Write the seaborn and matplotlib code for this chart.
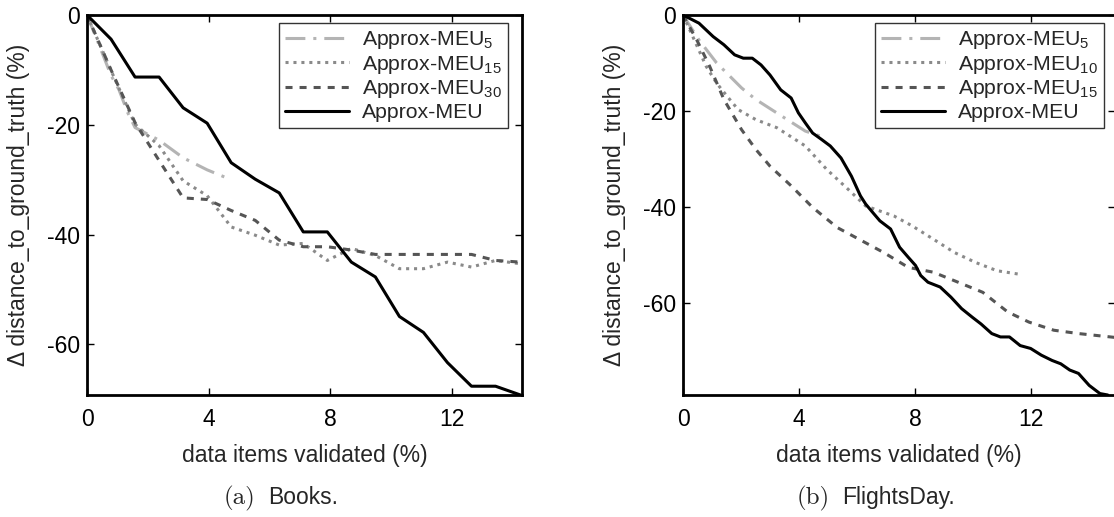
import matplotlib
matplotlib.use("Agg")
import matplotlib.pyplot as plt
import seaborn as sns
from matplotlib.offsetbox import TextArea, HPacker, AnnotationBbox

# ---- Books (a) ----
books_x = [0, 0.79, 1.58, 2.37, 3.16, 3.95, 4.74, 5.53, 6.32, 7.11, 7.9,
           8.69, 9.48, 10.27, 11.06, 11.85, 12.64, 13.43, 14.25]
books_meu = [0, -4.4, -11.3, -11.3, -16.9, -19.7, -26.9, -29.9, -32.4, -39.5, -39.5,
             -45.0, -47.7, -54.9, -57.8, -63.3, -67.6, -67.6, -69.2]
books_meu15 = [0, -10.1, -19.9, -23.8, -30.2, -32.9, -38.6, -40.1, -41.9, -41.6, -44.7,
               -42.5, -43.8, -46.2, -46.2, -45.0, -45.9, -44.7, -45.3]
books_meu30 = [0, -10.0, -19.6, -26.5, -33.3, -33.6, -35.6, -37.4, -41.0, -42.2, -42.2,
               -42.8, -43.6, -43.6, -43.6, -43.6, -43.6, -44.7, -45.0]
books_meu5_x = [0, 0.4, 0.79, 1.05, 1.34, 1.58, 2.37, 3.16, 3.95, 4.74]
books_meu5 = [0, -5.5, -11.0, -13.6, -17.8, -20.5, -22.8, -26.0, -28.2, -30.0]

# ---- FlightsDay (b) ----
fd_meu_x = [0, 0.55, 1.04, 1.41, 1.78, 2.08, 2.39, 2.69, 3.0, 3.37, 3.73, 3.98, 4.22,
            4.47, 4.77, 5.08, 5.45, 5.81, 6.12, 6.3, 6.55, 6.79, 7.16, 7.47, 7.77,
            8.02, 8.2, 8.45, 8.87, 9.24, 9.61, 9.98, 10.28, 10.65, 10.95, 11.26, 11.63,
            11.99, 12.36, 12.73, 13.03, 13.34, 13.64, 14.01, 14.38, 14.65]
fd_meu = [0, -1.7, -4.5, -6.2, -8.3, -9.0, -9.0, -10.4, -12.5, -15.6, -17.3, -20.4, -22.5,
          -24.6, -25.9, -27.3, -29.8, -33.6, -37.7, -39.4, -41.2, -42.9, -44.6, -48.4, -50.5,
          -52.2, -54.3, -55.7, -56.7, -58.8, -61.2, -63.0, -64.4, -66.4, -67.1, -67.1, -68.9,
          -69.5, -70.9, -72.0, -72.7, -74.0, -74.7, -77.2, -78.9, -79.2]
fd_meu5_x = [0, 0.55, 1.16, 2.02, 2.51, 3.49, 4.22, 4.77]
fd_meu5 = [0, -5.2, -10.0, -15.2, -17.6, -21.4, -24.2, -25.3]
fd_meu10_x = [0, 0.45, 0.8, 1.16, 1.53, 1.9, 2.51, 3.24, 4.22, 4.96, 5.69, 6.3, 7.28,
              7.89, 8.63, 9.36, 10.1, 10.83, 11.57]
fd_meu10 = [0, -6.0, -10.7, -14.2, -17.0, -19.7, -21.8, -23.5, -27.3, -32.2, -36.3, -39.8,
            -41.9, -43.9, -46.7, -49.5, -51.6, -53.3, -54.0]
fd_meu15_x = [0, 0.5, 0.92, 1.41, 2.02, 2.51, 3.0, 3.73, 4.47, 5.32, 6.06, 6.92, 7.77,
              8.63, 9.49, 10.34, 11.2, 11.93, 12.79, 13.65, 14.9]
fd_meu15 = [0, -5.5, -10.7, -17.6, -23.9, -28.0, -31.5, -35.6, -40.1, -44.3, -46.7, -49.5,
            -52.6, -53.6, -55.7, -57.8, -61.9, -64.0, -65.7, -66.4, -67.2]

LW = 2.2
STYLE_MEU5 = dict(color="#b4b4b4", linestyle=(0, (6.5, 2.6, 1.0, 2.6)))
STYLE_DOT = dict(color="#8a8a8a", linestyle=(0, (1.0, 1.6)))
STYLE_DASH = dict(color="#555555", linestyle=(0, (2.3, 2.3)))
STYLE_MEU = dict(color="black", linestyle="-")

sns.set_theme(style="ticks")
plt.rcParams["font.family"] = ["Liberation Sans", "DejaVu Sans"]
plt.rcParams["mathtext.fontset"] = "custom"
plt.rcParams["mathtext.rm"] = "Liberation Sans"
plt.rcParams["mathtext.it"] = "Liberation Sans"
plt.rcParams["mathtext.default"] = "regular"
plt.rcParams["axes.unicode_minus"] = False

FS = 16.5

fig = plt.figure(figsize=(11.14, 5.17), dpi=100)
ax1 = fig.add_axes([87 / 1114, 122 / 517, 435 / 1114, 380 / 517])
ax2 = fig.add_axes([683 / 1114, 122 / 517, 432 / 1114, 380 / 517])


def draw(ax, x, y, style, label):
    sns.lineplot(x=x, y=y, ax=ax, lw=LW, label=label, **style)


draw(ax1, books_meu5_x, books_meu5, STYLE_MEU5, r"Approx-MEU$_{5}$")
draw(ax1, books_x, books_meu15, STYLE_DOT, r"Approx-MEU$_{15}$")
draw(ax1, books_x, books_meu30, STYLE_DASH, r"Approx-MEU$_{30}$")
draw(ax1, books_x, books_meu, STYLE_MEU, "Approx-MEU")

draw(ax2, fd_meu5_x, fd_meu5, STYLE_MEU5, r"Approx-MEU$_{5}$")
draw(ax2, fd_meu10_x, fd_meu10, STYLE_DOT, r"Approx-MEU$_{10}$")
draw(ax2, fd_meu15_x, fd_meu15, STYLE_DASH, r"Approx-MEU$_{15}$")
draw(ax2, fd_meu_x, fd_meu, STYLE_MEU, "Approx-MEU")

for ax, xmax, ymin, leg_x in [(ax1, 14.3, -69.2, 0.968), (ax2, 14.9, -79.2, 0.9745)]:
    ax.set_xlim(0, xmax)
    ax.set_ylim(ymin, 0)
    ax.set_xticks([0, 4, 8, 12])
    ax.set_yticks([0, -20, -40, -60])
    ax.set_xticklabels(["0", "4", "8", "12"])
    ax.set_yticklabels(["0", "-20", "-40", "-60"])
    ax.tick_params(direction="in", top=True, right=True, length=5, width=1,
                   colors="black", labelsize=FS)
    ax.tick_params(axis="x", pad=9)
    ax.tick_params(axis="y", pad=5)
    for sp in ax.spines.values():
        sp.set_visible(True)
        sp.set_linewidth(2.0)
        sp.set_color("black")
    ax.set_xlabel("data items validated (%)", fontsize=FS)
    ax.set_ylabel("Δ distance_to_ground_truth (%)", fontsize=FS)
    ax.xaxis.set_label_coords(0.5, -0.13)
    ax.yaxis.set_label_coords(-0.131, 0.5)
    leg = ax.legend(loc="upper right", bbox_to_anchor=(leg_x, 0.979), borderaxespad=0,
                    fontsize=15.3, handlelength=3.0, handletextpad=0.6, borderpad=0.3,
                    labelspacing=0.12, fancybox=False, frameon=True)
    leg.get_frame().set_edgecolor("black")
    leg.get_frame().set_linewidth(1.0)


def caption(xc, tag, name):
    box = HPacker(children=[TextArea(tag, textprops=dict(family="cmr10", size=18)),
                            TextArea(name, textprops=dict(size=FS))],
                  align="baseline", pad=0, sep=9)
    ab = AnnotationBbox(box, (xc, 0.0368), xycoords="figure fraction", frameon=False,
                        box_alignment=(0.5, 0.5))
    fig.add_artist(ab)


caption(281 / 1114, "(a)", "Books.")
caption(876 / 1114, "(b)", "FlightsDay.")

fig.savefig("out.png", dpi=100)
